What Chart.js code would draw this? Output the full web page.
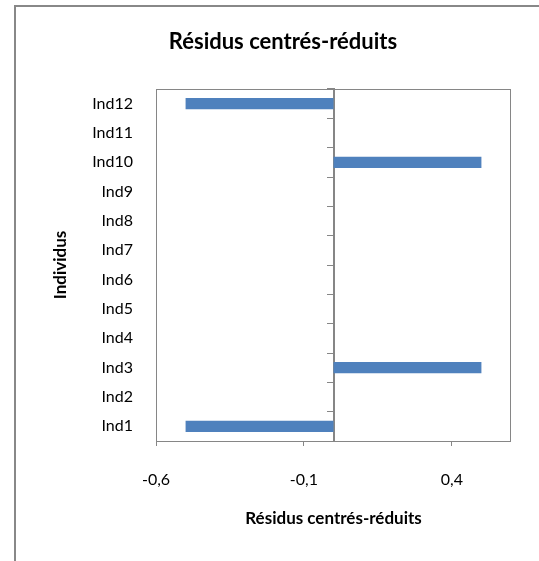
<!DOCTYPE html>
<html>
<head>
<meta charset="utf-8">
<script src="https://cdn.jsdelivr.net/npm/chart.js@4/dist/chart.umd.min.js"></script>
<style>
  html, body { margin: 0; padding: 0; background: #ffffff; }
  canvas { display: block; }
</style>
</head>
<body>
<canvas id="graphique" width="539" height="561"></canvas>
<script>
// Individus (de bas en haut) et leurs résidus centrés-réduits
const individus = ['Ind1', 'Ind2', 'Ind3', 'Ind4', 'Ind5', 'Ind6', 'Ind7', 'Ind8', 'Ind9', 'Ind10', 'Ind11', 'Ind12'];
const residus = [-0.5, 0, 0.5, 0, 0, 0, 0, 0, 0, 0.5, 0, -0.5];

// Graduations de l'axe horizontal
const graduationsX = [-0.6, -0.1, 0.4];
const xMin = -0.6;
const xMax = 0.6;

const titreGraphique = 'Résidus centrés-réduits';
const titreAxeX = 'Résidus centrés-réduits';
const titreAxeY = 'Individus';

const GRIS = '#868686';
const BLEU = '#4F81BD';
const POLICE = 'Lato, Carlito, Calibri, "Open Sans", sans-serif';

// Fond blanc, cadre extérieur et cadre de la zone de traçage
const cadres = {
  id: 'cadres',
  beforeDraw(chart) {
    const ctx = chart.ctx;
    ctx.save();
    ctx.fillStyle = '#ffffff';
    ctx.fillRect(0, 0, chart.width, chart.height);
    ctx.strokeStyle = '#888888';
    ctx.lineWidth = 2;
    ctx.strokeRect(15, 6, 2000, 2000);
    ctx.restore();
  },
  beforeDatasetsDraw(chart) {
    const {ctx, chartArea: a} = chart;
    ctx.save();
    ctx.strokeStyle = GRIS;
    ctx.lineWidth = 1;
    ctx.strokeRect(Math.round(a.left) + 0.5, Math.round(a.top) + 0.5,
                   Math.round(a.right - a.left) - 1, Math.round(a.bottom - a.top));
    ctx.restore();
  }
};

new Chart(document.getElementById('graphique'), {
  type: 'bar',
  data: {
    labels: individus,
    datasets: [{
      data: residus,
      backgroundColor: BLEU,
      borderWidth: 0,
      barPercentage: 0.38,
      categoryPercentage: 1,
      yAxisID: 'y'
    }]
  },
  options: {
    indexAxis: 'y',
    responsive: false,
    animation: false,
    devicePixelRatio: 1,
    layout: { padding: { left: 55, right: 28, top: 20, bottom: 0 } },
    plugins: {
      legend: { display: false },
      tooltip: { enabled: false },
      title: {
        display: true,
        text: titreGraphique,
        color: '#000000',
        font: { family: POLICE, size: 22, weight: 'bold' },
        padding: { top: 9, bottom: 33.6 }
      }
    },
    scales: {
      x: {
        type: 'linear',
        position: 'bottom',
        min: xMin,
        max: xMax,
        afterBuildTicks(scale) {
          scale.ticks = graduationsX.map(v => ({ value: v }));
        },
        afterFit(scale) { scale.height = 120; },
        grid: {
          drawOnChartArea: false,
          drawTicks: true,
          tickLength: 5,
          color: GRIS,
          lineWidth: 1
        },
        border: { display: false },
        ticks: {
          color: '#000000',
          font: { family: POLICE, size: 16 },
          padding: 24,
          maxRotation: 0,
          callback: v => String(v).replace('.', ',')
        },
        title: {
          display: true,
          text: titreAxeX,
          color: '#000000',
          font: { family: POLICE, size: 17, weight: 'bold' },
          padding: { top: 0, bottom: 32 }
        }
      },
      y: {
        type: 'category',
        position: 'left',
        reverse: true,
        offset: true,
        afterFit(scale) { scale.width = 101; },
        grid: { display: false, drawTicks: false },
        border: { display: false },
        ticks: {
          color: '#000000',
          font: { family: POLICE, size: 16 },
          padding: 23
        },
        title: {
          display: true,
          text: titreAxeY,
          color: '#000000',
          font: { family: POLICE, size: 17, weight: 'bold' },
          padding: { top: -5, bottom: 0 }
        }
      },
      // Axe vertical passant par zéro, avec graduations entre les individus
      yZero: {
        type: 'category',
        position: { x: 0 },
        reverse: true,
        offset: true,
        z: 1,
        grid: {
          offset: true,
          drawOnChartArea: false,
          drawTicks: true,
          tickLength: 6,
          color: GRIS,
          lineWidth: 1
        },
        border: { display: true, color: GRIS, width: 2 },
        ticks: { display: false }
      }
    }
  },
  plugins: [cadres]
});
</script>
</body>
</html>
